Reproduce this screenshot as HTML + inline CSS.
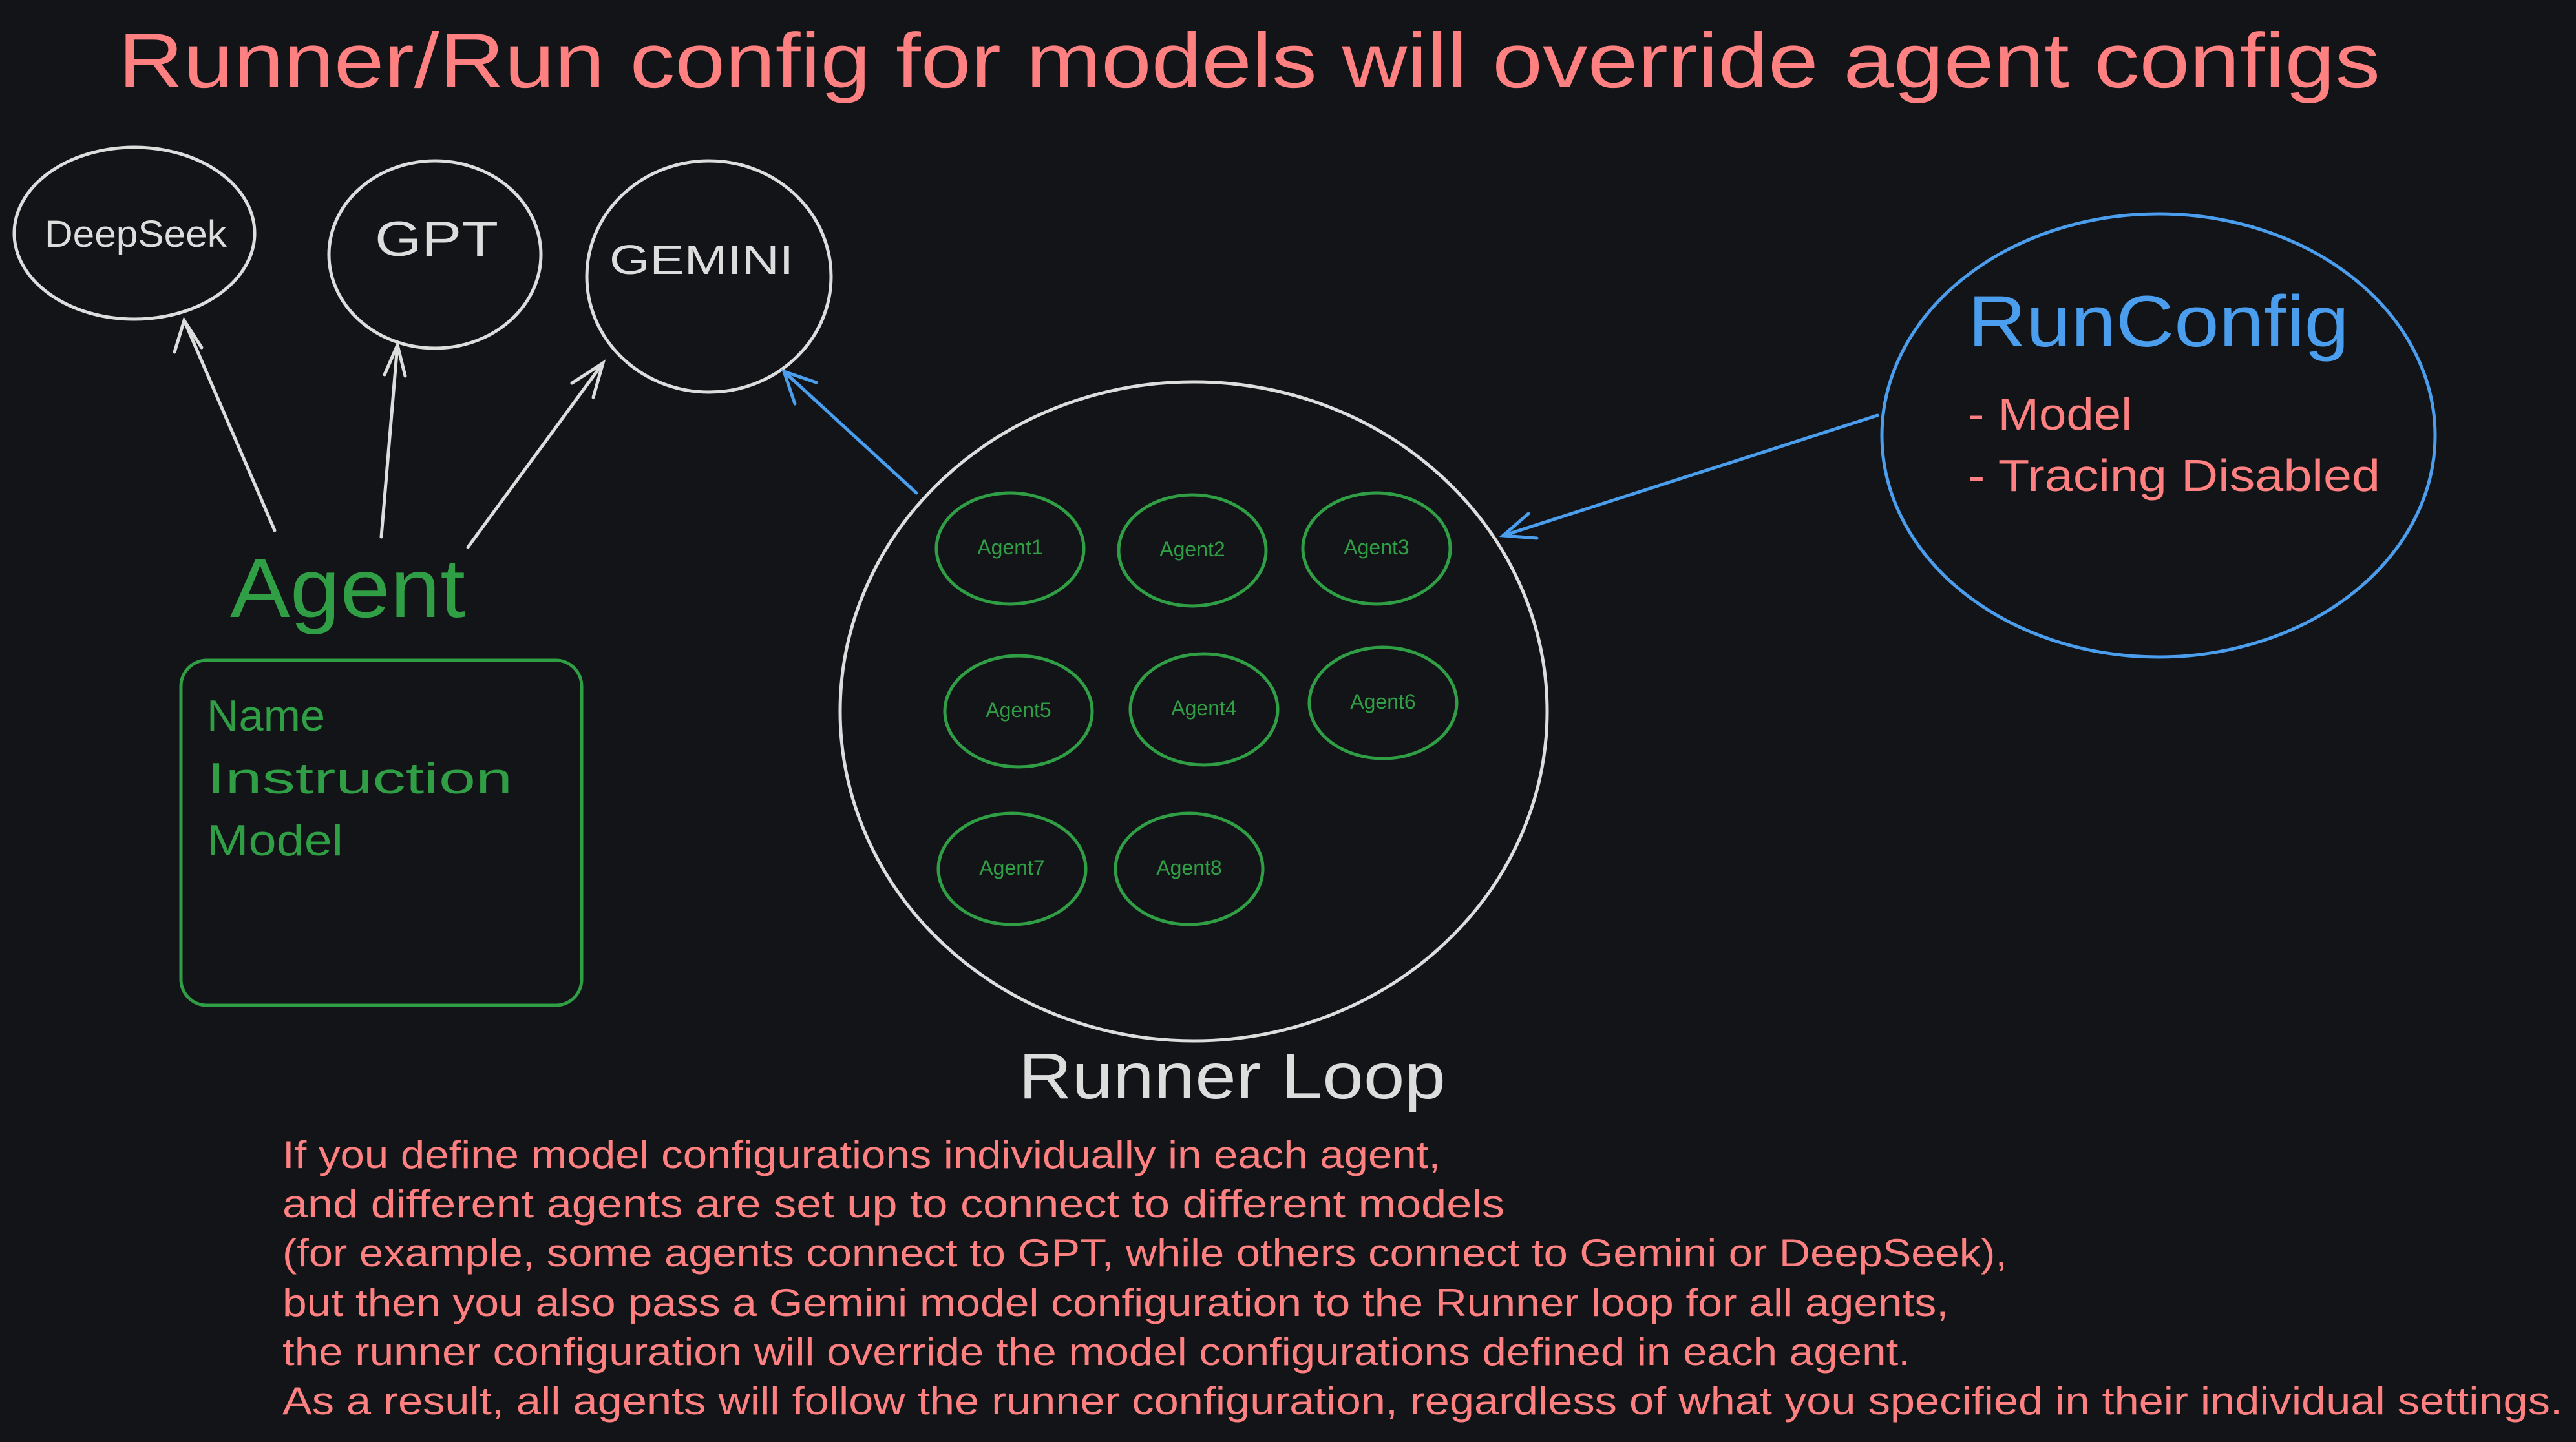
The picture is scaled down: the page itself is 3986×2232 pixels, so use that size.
<!DOCTYPE html>
<html><head><meta charset="utf-8"><style>
html,body{margin:0;padding:0;background:#121418;}
svg{display:block}
text{font-family:"Liberation Sans",sans-serif}
</style></head><body>
<svg width="3986" height="2232" viewBox="0 0 3986 2232" xmlns="http://www.w3.org/2000/svg">
<rect width="3986" height="2232" fill="#121418"/>
<text x="183" y="135" font-size="120" fill="#ff8080" textLength="3500" lengthAdjust="spacingAndGlyphs">Runner/Run config for models will override agent configs</text>

<g fill="none" stroke="#dddddd" stroke-width="5">
<ellipse cx="208" cy="361" rx="186" ry="133"/>
<ellipse cx="673" cy="394" rx="164" ry="145"/>
<ellipse cx="1097" cy="428" rx="189" ry="179"/>
<ellipse cx="1847" cy="1101" rx="547" ry="510"/>
</g>
<g fill="#dddddd" lengthAdjust="spacingAndGlyphs">
<text x="69" y="382" font-size="58" textLength="282" lengthAdjust="spacingAndGlyphs">DeepSeek</text>
<text x="580" y="396" font-size="76" textLength="191" lengthAdjust="spacingAndGlyphs">GPT</text>
<text x="943" y="424" font-size="64" textLength="285" lengthAdjust="spacingAndGlyphs">GEMINI</text>
</g>

<g stroke="#dddddd" stroke-width="5" fill="none" stroke-linecap="round">
<line x1="425" y1="821" x2="285" y2="496"/>
<path d="M270,545 L285,496 L312,538"/>
<line x1="590" y1="831" x2="615" y2="534"/>
<path d="M595,580 L615,534 L627,582"/>
<line x1="724" y1="847" x2="933" y2="562"/>
<path d="M885,593 L933,562 L918,615"/>
</g>
<g stroke="#4a9eed" stroke-width="5" fill="none" stroke-linecap="round">
<line x1="1418" y1="763" x2="1213" y2="575"/>
<path d="M1230,625 L1213,575 L1263,592"/>
<line x1="2905" y1="643" x2="2326" y2="829"/>
<path d="M2365,795 L2326,829 L2378,833"/>
</g>

<text x="356" y="955" font-size="130" fill="#2f9e44" textLength="364" lengthAdjust="spacingAndGlyphs">Agent</text>
<rect x="280" y="1022" width="620" height="534" rx="40" fill="none" stroke="#2f9e44" stroke-width="5"/>
<g fill="#2f9e44" font-size="68">
<text x="320" y="1131" textLength="183" lengthAdjust="spacingAndGlyphs">Name</text>
<text x="320" y="1228" textLength="473" lengthAdjust="spacingAndGlyphs">Instruction</text>
<text x="320" y="1324" textLength="211" lengthAdjust="spacingAndGlyphs">Model</text>
</g>

<g fill="none" stroke="#2f9e44" stroke-width="5">
<ellipse cx="1563" cy="849" rx="114" ry="86"/>
<ellipse cx="1845" cy="852" rx="114" ry="86"/>
<ellipse cx="2130" cy="849" rx="114" ry="86"/>
<ellipse cx="1576" cy="1101" rx="114" ry="86"/>
<ellipse cx="1863" cy="1098" rx="114" ry="86"/>
<ellipse cx="2140" cy="1088" rx="114" ry="86"/>
<ellipse cx="1566" cy="1345" rx="114" ry="86"/>
<ellipse cx="1840" cy="1345" rx="114" ry="86"/>
</g>
<g fill="#2f9e44" font-size="32" text-anchor="middle">
<text x="1563" y="858">Agent1</text>
<text x="1845" y="861">Agent2</text>
<text x="2130" y="858">Agent3</text>
<text x="1576" y="1110">Agent5</text>
<text x="1863" y="1107">Agent4</text>
<text x="2140" y="1097">Agent6</text>
<text x="1566" y="1354">Agent7</text>
<text x="1840" y="1354">Agent8</text>
</g>

<text x="1576" y="1700" font-size="100" fill="#dddddd" textLength="661" lengthAdjust="spacingAndGlyphs">Runner Loop</text>

<ellipse cx="3340" cy="674" rx="428" ry="343" fill="none" stroke="#4a9eed" stroke-width="5"/>
<text x="3045" y="536" font-size="112" fill="#4a9eed" textLength="590" lengthAdjust="spacingAndGlyphs">RunConfig</text>
<g fill="#ff8080" font-size="70">
<text x="3045" y="665" textLength="254" lengthAdjust="spacingAndGlyphs">- Model</text>
<text x="3045" y="760" textLength="638" lengthAdjust="spacingAndGlyphs">- Tracing Disabled</text>
</g>

<g fill="#ff8080" font-size="60">
<text x="437" y="1808" textLength="1792" lengthAdjust="spacingAndGlyphs">If you define model configurations individually in each agent,</text>
<text x="437" y="1884" textLength="1891" lengthAdjust="spacingAndGlyphs">and different agents are set up to connect to different models</text>
<text x="437" y="1960" textLength="2669" lengthAdjust="spacingAndGlyphs">(for example, some agents connect to GPT, while others connect to Gemini or DeepSeek),</text>
<text x="437" y="2037" textLength="2578" lengthAdjust="spacingAndGlyphs">but then you also pass a Gemini model configuration to the Runner loop for all agents,</text>
<text x="437" y="2113" textLength="2519" lengthAdjust="spacingAndGlyphs">the runner configuration will override the model configurations defined in each agent.</text>
<text x="437" y="2189" textLength="3528" lengthAdjust="spacingAndGlyphs">As a result, all agents will follow the runner configuration, regardless of what you specified in their individual settings.</text>
</g>
</svg>
</body></html>
